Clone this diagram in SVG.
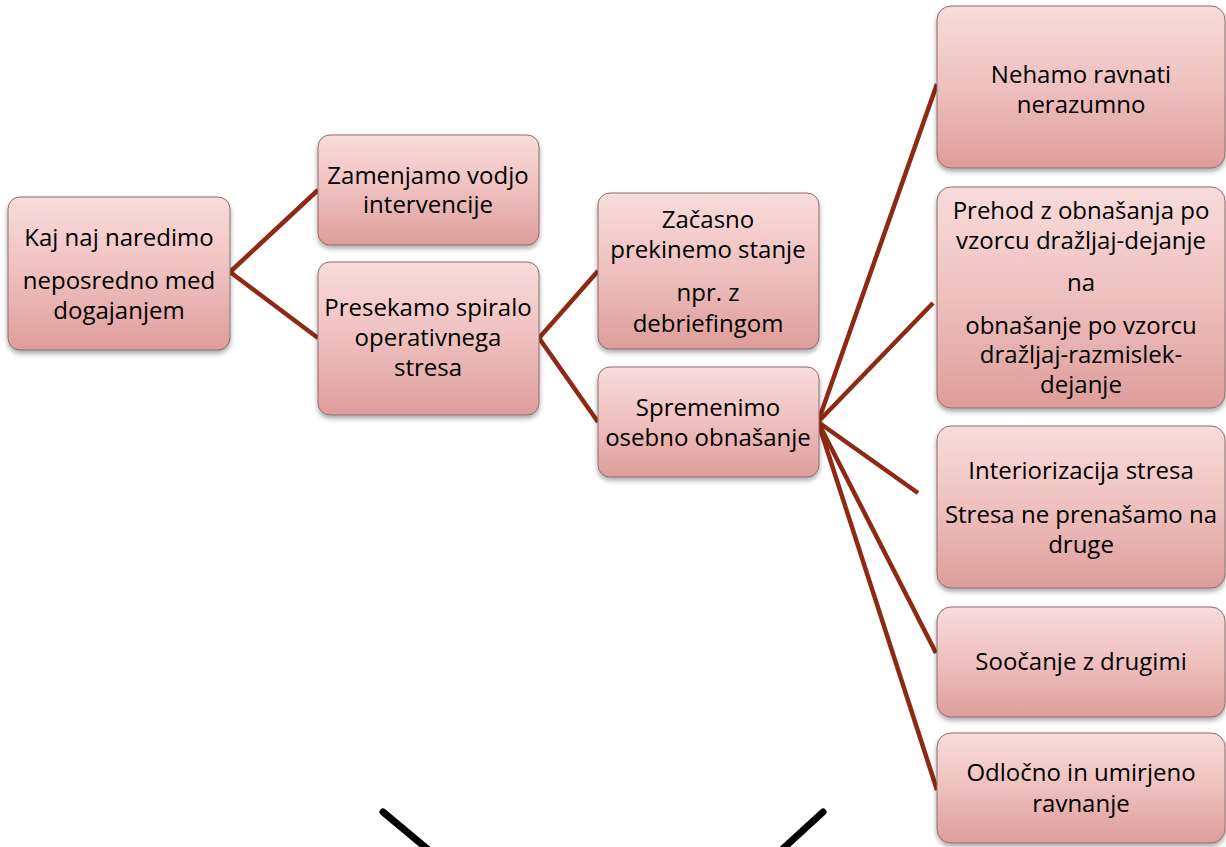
<svg xmlns="http://www.w3.org/2000/svg" width="1226" height="847" viewBox="0 0 1226 847">
<defs>
<linearGradient id="g" x1="0" y1="0" x2="0" y2="1">
<stop offset="0" stop-color="#F8DCDB"/>
<stop offset="0.5" stop-color="#EEC0BE"/>
<stop offset="1" stop-color="#DE9D9A"/>
</linearGradient>
<filter id="sh" x="-10%" y="-10%" width="120%" height="130%">
<feDropShadow dx="0" dy="3" stdDeviation="2.5" flood-color="#000" flood-opacity="0.35"/>
</filter>
</defs>
<style>
.box{fill:url(#g);stroke:#8c6c6c;stroke-width:1;filter:url(#sh)}
text{font-family:"Open Sans","Noto Sans",sans-serif;font-size:24px;fill:#000;text-anchor:middle}
.c{stroke:#8E2A14;stroke-width:4.5;fill:none}
.k{stroke:#000;stroke-width:7;stroke-linecap:round;fill:none}
</style>
<rect width="1226" height="847" fill="#fff"/>
<g id="connectors">
<line class="c" x1="230" y1="272" x2="318" y2="190"/>
<line class="c" x1="230" y1="272" x2="318" y2="338"/>
<line class="c" x1="539" y1="338" x2="598" y2="271"/>
<line class="c" x1="539" y1="338" x2="598" y2="422"/>
<line class="c" x1="818" y1="422" x2="937" y2="84"/>
<line class="c" x1="818" y1="422" x2="933" y2="303"/>
<line class="c" x1="818" y1="422" x2="918" y2="493"/>
<line class="c" x1="818" y1="422" x2="936" y2="653"/>
<line class="c" x1="818" y1="422" x2="937" y2="790"/>
</g>
<g id="marks">
<line class="k" x1="383" y1="812" x2="431" y2="852"/>
<line class="k" x1="823" y1="812" x2="775" y2="856"/>
</g>
<g id="n1"><rect class="box" x="8" y="197" width="222" height="153" rx="12"/>
<text x="119" y="246">Kaj naj naredimo</text><text x="119" y="289">neposredno med</text><text x="119" y="319">dogajanjem</text></g>
<g id="n2"><rect class="box" x="318" y="135" width="221" height="110" rx="12"/>
<text x="428" y="184">Zamenjamo vodjo</text><text x="428" y="213">intervencije</text></g>
<g id="n3"><rect class="box" x="318" y="262" width="221" height="153" rx="12"/>
<text x="428" y="316">Presekamo spiralo</text><text x="428" y="346">operativnega</text><text x="428" y="376">stresa</text></g>
<g id="n4"><rect class="box" x="598" y="193" width="221" height="156" rx="12"/>
<text x="708" y="228">Začasno</text><text x="708" y="258">prekinemo stanje</text><text x="708" y="301">npr. z</text><text x="708" y="332">debriefingom</text></g>
<g id="n5"><rect class="box" x="598" y="367" width="221" height="110" rx="12"/>
<text x="708" y="416">Spremenimo</text><text x="708" y="446">osebno obnašanje</text></g>
<g id="n6"><rect class="box" x="937" y="6" width="288" height="162" rx="14"/>
<text x="1081" y="83">Nehamo ravnati</text><text x="1081" y="113">nerazumno</text></g>
<g id="n7"><rect class="box" x="937" y="187" width="288" height="221" rx="14"/>
<text x="1081" y="219">Prehod z obnašanja po</text><text x="1081" y="249">vzorcu dražljaj-dejanje</text><text x="1081" y="291">na</text><text x="1081" y="334">obnašanje po vzorcu</text><text x="1081" y="363">dražljaj-razmislek-</text><text x="1081" y="393">dejanje</text></g>
<g id="n8"><rect class="box" x="937" y="426" width="288" height="162" rx="14"/>
<text x="1081" y="479">Interiorizacija stresa</text><text x="1081" y="523">Stresa ne prenašamo na</text><text x="1081" y="553">druge</text></g>
<g id="n9"><rect class="box" x="937" y="607" width="288" height="110" rx="14"/>
<text x="1081" y="670">Soočanje z drugimi</text></g>
<g id="n10"><rect class="box" x="937" y="733" width="288" height="110" rx="14"/>
<text x="1081" y="781">Odločno in umirjeno</text><text x="1081" y="812">ravnanje</text></g>
</svg>
